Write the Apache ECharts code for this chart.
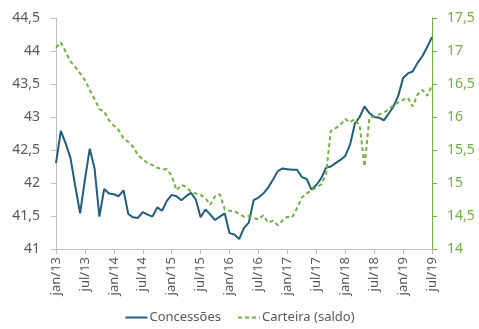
<!DOCTYPE html>
<html>
<head>
<meta charset="utf-8">
<script src="https://cdn.jsdelivr.net/npm/echarts@6/dist/echarts.min.js"></script>
<style>
  html, body { margin: 0; padding: 0; background: #fff; }
  #chart { width: 479px; height: 329px; }
</style>
</head>
<body>
<div id="chart"></div>
<script>
// Monthly categories, jan/13 .. jul/19
const months = [
  'jan/13','fev/13','mar/13','abr/13','mai/13','jun/13','jul/13','ago/13','set/13','out/13','nov/13','dez/13',
  'jan/14','fev/14','mar/14','abr/14','mai/14','jun/14','jul/14','ago/14','set/14','out/14','nov/14','dez/14',
  'jan/15','fev/15','mar/15','abr/15','mai/15','jun/15','jul/15','ago/15','set/15','out/15','nov/15','dez/15',
  'jan/16','fev/16','mar/16','abr/16','mai/16','jun/16','jul/16','ago/16','set/16','out/16','nov/16','dez/16',
  'jan/17','fev/17','mar/17','abr/17','mai/17','jun/17','jul/17','ago/17','set/17','out/17','nov/17','dez/17',
  'jan/18','fev/18','mar/18','abr/18','mai/18','jun/18','jul/18','ago/18','set/18','out/18','nov/18','dez/18',
  'jan/19','fev/19','mar/19','abr/19','mai/19','jun/19','jul/19'
];

// Concessões (left axis)
const concessoes = [
  42.30, 42.79, 42.60, 42.38, 41.95, 41.54, 42.05, 42.52, 42.22, 41.49, 41.91, 41.84,
  41.83, 41.80, 41.89, 41.53, 41.48, 41.47, 41.56, 41.52, 41.49, 41.63, 41.58, 41.73,
  41.82, 41.80, 41.74, 41.80, 41.85, 41.75, 41.48, 41.60, 41.52, 41.44, 41.49, 41.54,
  41.24, 41.22, 41.15, 41.32, 41.40, 41.74, 41.78, 41.84, 41.93, 42.05, 42.18, 42.22,
  42.21, 42.20, 42.20, 42.09, 42.06, 41.90, 41.97, 42.07, 42.23, 42.25, 42.30, 42.35,
  42.41, 42.58, 42.90, 43.00, 43.16, 43.06, 43.00, 42.99, 42.95, 43.05, 43.16, 43.32,
  43.59, 43.66, 43.69, 43.82, 43.92, 44.06, 44.21
];

// Carteira (saldo) (right axis)
const carteira = [
  17.05, 17.13, 16.99, 16.84, 16.76, 16.66, 16.56, 16.41, 16.27, 16.12, 16.08, 15.95,
  15.87, 15.80, 15.68, 15.62, 15.55, 15.42, 15.36, 15.30, 15.27, 15.23, 15.21, 15.21,
  15.11, 14.89, 14.97, 14.94, 14.87, 14.84, 14.82, 14.77, 14.67, 14.80, 14.83, 14.60,
  14.58, 14.57, 14.53, 14.49, 14.50, 14.47, 14.45, 14.51, 14.40, 14.43, 14.36, 14.43,
  14.49, 14.48, 14.62, 14.78, 14.84, 14.89, 14.93, 14.98, 15.12, 15.79, 15.83, 15.88,
  15.97, 15.92, 15.97, 15.87, 15.25, 15.98, 16.01, 16.04, 16.07, 16.11, 16.18, 16.22,
  16.26, 16.29, 16.16, 16.34, 16.41, 16.32, 16.48
];

const leftTicks = { min: 41, max: 44.5, step: 0.5 };
const rightTicks = { min: 14, max: 17.5, step: 0.5 };

const BLUE = '#1F5F7D';
const GREEN = '#72B043';
const GRAY_TEXT = '#595959';
const FONT = 'Noto Sans';

const commaFmt = v => String(v).replace('.', ',');

const chart = echarts.init(document.getElementById('chart'), null, { renderer: 'canvas' });
chart.setOption({
  animation: false,
  backgroundColor: '#ffffff',
  textStyle: { fontFamily: FONT },
  grid: { left: 56, right: 47, top: 18, bottom: 80, containLabel: false, outerBoundsMode: 'none' },
  legend: {
    bottom: 0,
    left: 'center',
    itemWidth: 22,
    itemHeight: 10,
    itemGap: 16,
    itemStyle: { opacity: 0 },
    textStyle: { color: GRAY_TEXT, fontSize: 13, fontFamily: FONT, padding: [0, 0, 0, -3] },
    data: ['Concessões', 'Carteira (saldo)']
  },
  xAxis: {
    type: 'category',
    data: months,
    boundaryGap: false,
    axisLine: { lineStyle: { color: '#BFBFBF', width: 1 } },
    axisTick: { show: true, interval: 5, length: 5, lineStyle: { color: '#BFBFBF' } },
    axisLabel: {
      interval: 5,
      rotate: 90,
      color: GRAY_TEXT,
      fontSize: 13,
      fontFamily: FONT,
      margin: 8
    },
    splitLine: { show: false }
  },
  yAxis: [
    {
      type: 'value',
      position: 'left',
      min: leftTicks.min,
      max: leftTicks.max,
      interval: leftTicks.step,
      axisLine: { show: true, lineStyle: { color: '#BFBFBF' } },
      axisTick: { show: true, length: 5, lineStyle: { color: '#BFBFBF' } },
      axisLabel: { color: GRAY_TEXT, fontSize: 14, fontFamily: FONT, margin: 16, formatter: commaFmt },
      splitLine: { show: false }
    },
    {
      type: 'value',
      position: 'right',
      min: rightTicks.min,
      max: rightTicks.max,
      interval: rightTicks.step,
      axisLine: { show: true, lineStyle: { color: GREEN } },
      axisTick: { show: true, length: 5, lineStyle: { color: GREEN } },
      axisLabel: { color: GREEN, fontSize: 14, fontFamily: FONT, margin: 15, formatter: commaFmt },
      splitLine: { show: false }
    }
  ],
  series: [
    {
      name: 'Concessões',
      type: 'line',
      yAxisIndex: 0,
      data: concessoes,
      symbol: 'none',
      color: BLUE,
      lineStyle: { color: BLUE, width: 2 }
    },
    {
      name: 'Carteira (saldo)',
      type: 'line',
      yAxisIndex: 1,
      data: carteira,
      symbol: 'none',
      color: GREEN,
      lineStyle: { color: GREEN, width: 2, type: [4, 3] }
    }
  ]
});
</script>
</body>
</html>
